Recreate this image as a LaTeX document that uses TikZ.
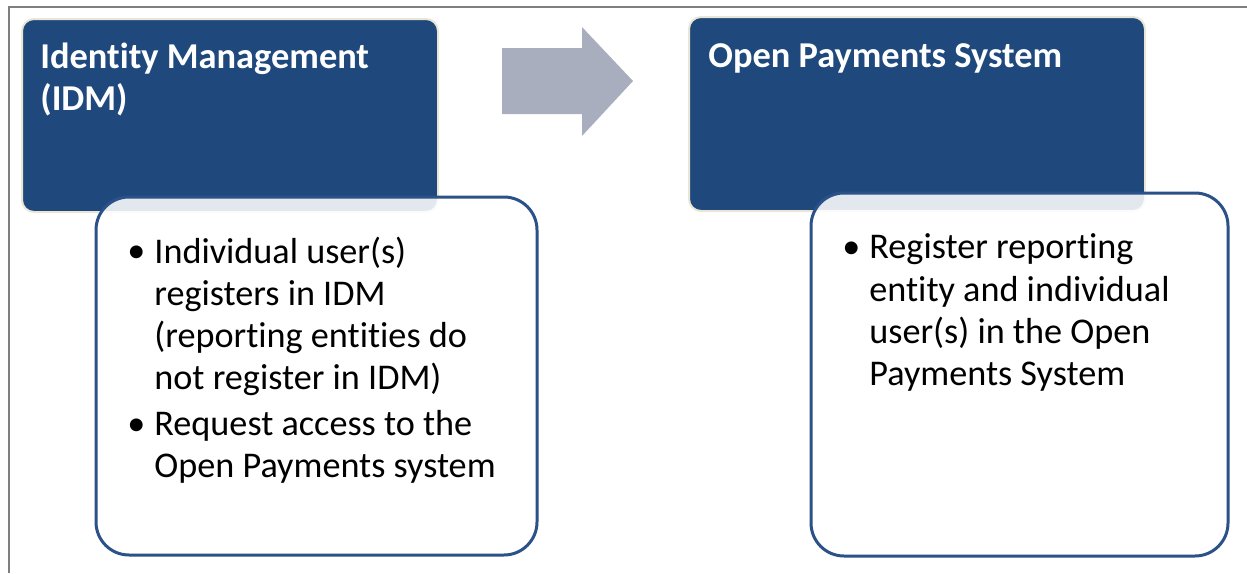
\documentclass[tikz,border=0pt]{standalone}
\usepackage{fontspec}
\setmainfont{Carlito}[Ligatures=NoCommon]

\definecolor{headblue}{HTML}{1F497D}
\definecolor{edgeblue}{HTML}{2A5289}
\definecolor{arrowgray}{HTML}{A9AEBE}
\definecolor{glowbeige}{HTML}{E9E6D6}
\definecolor{framegray}{HTML}{7F7F7F}

\tikzset{
    headbox/.style={fill=headblue, draw=glowbeige, line width=1pt, rounded corners=6pt},
    listbox/.style={fill=white, fill opacity=0.88, draw=edgeblue, draw opacity=1, line width=1.5pt, rounded corners=16.5pt},
    headtext/.style={anchor=north west, inner sep=0pt, align=left, text=white, font=\fontsize{18.2}{21}\selectfont\bfseries},
    listtext/.style={anchor=north west, inner sep=0pt, align=left, font=\fontsize{18.1}{21.15}\selectfont},
    listdot/.style={anchor=base, inner sep=0pt, font=\fontsize{18.1}{21.15}\selectfont}
}

\begin{document}
\begin{tikzpicture}[x=0.5pt, y=-0.5pt]
        \useasboundingbox (0,0) rectangle (1247,573);

        % Frame
        \draw[framegray, line width=1pt] (9,573) -- (9,7) -- (1247,7);

        % Identity Management
        \filldraw[headbox] (22,19) rectangle (438,212);
        \filldraw[listbox] (96,197) rectangle (537,555);

        \node[headtext] (idmhead) at (40,38.3) {\strut Identity Management\\(IDM)};

        \node[listdot] (idmdot1) at (136.5,262.5) {\textbullet};
        \node[listtext] (idmitem1) at (154,233) {\strut Individual user(s)\\registers in IDM\\(reporting entities do\\not register in IDM)};
        \node[listdot] (idmdot2) at (136.5,435) {\textbullet};
        \node[listtext] (idmitem2) at (154,405.5) {\strut Request access to the\\Open Payments system};

        % Arrow
        \fill[arrowgray] (502,48) -- (582,48) -- (582,27) -- (633,81) -- (582,136) -- (582,114) -- (502,114) -- cycle;

        % Open Payments System
        \filldraw[headbox] (689,17) rectangle (1145,211);
        \filldraw[listbox] (811,193) rectangle (1228,556);

        \node[headtext] (opshead) at (708,37.3) {\strut Open Payments System};

        \node[listdot] (opsdot1) at (851.5,258.3) {\textbullet};
        \node[listtext] (opsitem1) at (869,228.7) {\strut Register reporting\\entity and individual\\user(s) in the Open\\Payments System};
    \end{tikzpicture}
\end{document}
